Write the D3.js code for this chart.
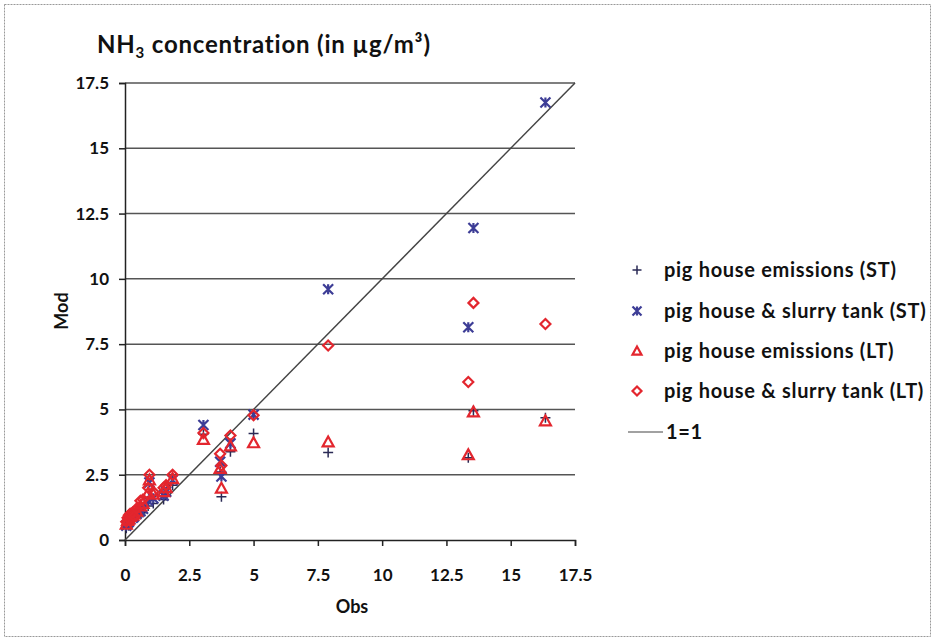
<!DOCTYPE html>
<html>
<head>
<meta charset="utf-8">
<script src="https://cdn.jsdelivr.net/npm/d3@7/dist/d3.min.js"></script>
<style>
  html, body { margin: 0; padding: 0; background: #fff; }
  svg { display: block; }
  text { font-family: Lato, "Open Sans", "Liberation Sans", sans-serif; font-weight: bold; fill: #111; }
</style>
</head>
<body>
<svg id="chart" width="935" height="641"></svg>
<script>
// ---- data ----
const obs        = [0.05, 0.1, 0.15, 0.2, 0.3, 0.35, 0.45, 0.6, 0.7, 0.9, 0.95, 1.1, 1.5, 1.6, 1.85, 3.05, 3.7, 3.75, 4.1, 5.0, 7.9, 13.35, 13.55, 16.35];
const pigHouseST = [0.45, 0.6, 0.55, 0.7, 0.75, 0.8, 0.9, 1.0, 1.05, 1.3, 1.6, 1.4, 1.55, 1.7, 2.1, 4.05, 2.6, 1.66, 3.38, 4.08, 3.35, 3.15, 4.95, 4.68];
const slurryST   = [0.55, 0.65, 0.7, 0.8, 0.85, 0.9, 1.0, 1.1, 1.2, 1.5, 2.2, 1.6, 1.7, 1.85, 2.3, 4.4, 3.0, 2.43, 3.7, 4.8, 9.6, 8.15, 11.95, 16.75];
const pigHouseLT = [0.6, 0.75, 0.8, 0.9, 0.95, 1.0, 1.1, 1.3, 1.4, 1.8, 2.3, 1.75, 1.85, 2.0, 2.35, 3.85, 2.74, 1.98, 3.6, 3.72, 3.75, 3.26, 4.9, 4.56];
const slurryLT   = [0.7, 0.85, 0.95, 1.0, 1.05, 0.9, 1.2, 1.5, 1.55, 2.0, 2.5, 1.85, 2.0, 2.1, 2.5, 4.1, 3.3, 2.85, 4.0, 4.78, 7.45, 6.05, 9.08, 8.27];
const oneToOne   = [[0, 0], [17.5, 17.5]];
const ticks      = [0, 2.5, 5, 7.5, 10, 12.5, 15, 17.5];
const seriesNames = ["pig house emissions (ST)", "pig house & slurry tank (ST)", "pig house emissions (LT)", "pig house & slurry tank (LT)"];
const lineName   = "1=1";

// ---- layout ----
const svg = d3.select("#chart");
const L = 125, R = 575, T = 83, B = 540;
const x = d3.scaleLinear().domain([0, 17.5]).range([L, R]);
const y = d3.scaleLinear().domain([0, 17.5]).range([B, T]);

// outer border
svg.append("rect").attr("x", 4.5).attr("y", 4.5).attr("width", 926).attr("height", 632)
  .attr("fill", "none").attr("stroke", "#999").attr("stroke-width", 1).attr("stroke-dasharray", "2,1");

// grid lines
svg.append("g").selectAll("line").data(ticks.filter(t => t > 0)).join("line")
  .attr("x1", L).attr("x2", R).attr("y1", d => y(d)).attr("y2", d => y(d))
  .attr("stroke", "#555").attr("stroke-width", 1.5);

// y axis
const yAxis = svg.append("g").attr("transform", `translate(${L},0)`)
  .call(d3.axisLeft(y).tickValues(ticks).tickFormat(d3.format("")).tickSize(6).tickPadding(10));
yAxis.select(".domain").attr("stroke", "#222").attr("stroke-width", 1.5);
yAxis.selectAll(".tick line").attr("stroke", "#222").attr("stroke-width", 1.5);
yAxis.selectAll("text").style("font-size", "17px").attr("fill", "#111");

// x axis
const xAxis = svg.append("g").attr("transform", `translate(0,${B})`)
  .call(d3.axisBottom(x).tickValues(ticks).tickFormat(d3.format("")).tickSize(6).tickPadding(23));
xAxis.select(".domain").attr("stroke", "#222").attr("stroke-width", 1.5);
xAxis.selectAll(".tick line").attr("stroke", "#222").attr("stroke-width", 1.5);
xAxis.selectAll("text").style("font-size", "17px").attr("fill", "#111");

// 1:1 line
svg.append("path").datum(oneToOne)
  .attr("d", d3.line().x(d => x(d[0])).y(d => y(d[1])))
  .attr("stroke", "#444").attr("stroke-width", 1.5).attr("fill", "none");

// marker painters
const colNavy = "#2a2a55", colBlue = "#3d3d96", colRed = "#e3262e";
function plus(g, cx, cy, s) {
  g.append("path").attr("d", `M${cx - s},${cy}H${cx + s}M${cx},${cy - s}V${cy + s}`)
    .attr("stroke", colNavy).attr("stroke-width", 1.5).attr("fill", "none");
}
function star(g, cx, cy, s) {
  g.append("path").attr("d", `M${cx - s},${cy - s}L${cx + s},${cy + s}M${cx - s},${cy + s}L${cx + s},${cy - s}M${cx},${cy - s}V${cy + s}`)
    .attr("stroke", colBlue).attr("stroke-width", 2.2).attr("fill", "none");
}
function tri(g, cx, cy, s) {
  g.append("path").attr("d", `M${cx},${cy - s}L${cx + s},${cy + s * 0.8}L${cx - s},${cy + s * 0.8}Z`)
    .attr("stroke", colRed).attr("stroke-width", 2.2).attr("fill", "none");
}
function diamond(g, cx, cy, s) {
  g.append("path").attr("d", `M${cx},${cy - s}L${cx + s},${cy}L${cx},${cy + s}L${cx - s},${cy}Z`)
    .attr("stroke", colRed).attr("stroke-width", 2.2).attr("fill", "none");
}
const painters = [plus, star, tri, diamond];
const seriesData = [pigHouseST, slurryST, pigHouseLT, slurryLT];
const sizes = [5, 5, 5.5, 5];

[0, 1, 2, 3].forEach(i => {
  const g = svg.append("g");
  seriesData[i].forEach((v, k) => painters[i](g, x(obs[k]), y(v), sizes[i]));
});

// title
const title = svg.append("text").attr("x", 97).attr("y", 53).style("font-size", "24px").style("letter-spacing", "0.8px");
title.append("tspan").text("NH");
title.append("tspan").text("3").attr("dy", 5).style("font-size", "15px");
title.append("tspan").text(" concentration (in µg/m³)").attr("dy", -5);

// axis titles
svg.append("text").attr("x", 352).attr("y", 613).attr("text-anchor", "middle").style("font-size", "18px").text("Obs");
svg.append("text").attr("transform", "translate(68,311) rotate(-90)").attr("text-anchor", "middle").style("font-size", "18px").text("Mod");

// legend
const legY = [270, 311, 351, 391, 432];
seriesNames.forEach((n, i) => {
  painters[i](svg, 637, legY[i], 4.5);
  svg.append("text").attr("x", 664).attr("y", legY[i] + 7).style("font-size", "20px").style("letter-spacing", "0.7px").text(n);
});
svg.append("path").attr("d", `M628,${legY[4]}H663`).attr("stroke", "#444").attr("stroke-width", 1.2);
svg.append("text").attr("x", 666).attr("y", legY[4] + 7).style("font-size", "20px").style("letter-spacing", "0.7px").text(lineName);
</script>
</body>
</html>
